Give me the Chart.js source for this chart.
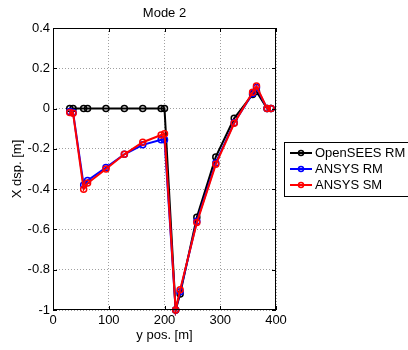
<!DOCTYPE html>
<html>
<head>
<meta charset="utf-8">
<script src="https://cdn.jsdelivr.net/npm/chart.js@4/dist/chart.umd.min.js"></script>
<style>
  html, body { margin: 0; padding: 0; background: #fff; }
  #wrap { width: 408px; height: 350px; }
</style>
</head>
<body>
<div id="wrap"><canvas id="c"></canvas></div>
<script>
// positions along y [m]
const yPos = [30, 36, 55, 62, 95, 128, 161, 194, 200, 220, 228, 258, 292, 325, 358, 365, 384, 391];

// X displacement per model
const openseesRM = [0, 0, 0, 0, 0, 0, 0, 0, 0, -1, -0.92, -0.54, -0.24, -0.048, 0.07, 0.085, 0, 0];
const ansysRM = [-0.015, -0.02, -0.38, -0.357, -0.293, -0.227, -0.18, -0.155, -0.155, -1, -0.91, -0.56, -0.27, -0.07, 0.075, 0.105, 0, 0];
const ansysSM = [-0.02, -0.023, -0.40, -0.37, -0.30, -0.227, -0.167, -0.131, -0.125, -1, -0.90, -0.566, -0.277, -0.073, 0.081, 0.112, 0, 0];

const xTicks = [0, 100, 200, 300, 400];
const yTicks = [-1, -0.8, -0.6, -0.4, -0.2, 0, 0.2, 0.4];
const yTickLabels = ['-1', '-0.8', '-0.6', '-0.4', '-0.2', '0', '0.2', '0.4'];

const font = 'Liberation Sans, Arial, sans-serif';

function pts(vals) {
    return yPos.map((x, i) => ({ x: x, y: vals[i] }));
}

function series(label, vals, color, order) {
    return {
        label: label,
        data: pts(vals),
        borderColor: color,
        borderWidth: 2,
        pointRadius: 3,
        pointBorderWidth: 1.5,
        pointBorderColor: color,
        pointBackgroundColor: 'rgba(0,0,0,0)',
        tension: 0,
        clip: 6,
        order: order
    };
}

// MATLAB style frame, inward ticks, title and legend
const matlabFrame = {
    id: 'matlabFrame',
    afterDraw(chart) {
        const ctx = chart.ctx;
        const a = chart.chartArea;
        const xs = chart.scales.x, ys = chart.scales.y;
        ctx.save();
        ctx.strokeStyle = '#000';
        ctx.lineWidth = 1;
        ctx.strokeRect(Math.round(a.left) + 0.5, Math.round(a.top) + 0.5,
            Math.round(a.right - a.left) - 1, Math.round(a.bottom - a.top) - 1);
        ctx.beginPath();
        xTicks.forEach(v => {
            const px = Math.round(xs.getPixelForValue(v)) + 0.5;
            ctx.moveTo(px, a.bottom); ctx.lineTo(px, a.bottom - 4);
            ctx.moveTo(px, a.top); ctx.lineTo(px, a.top + 4);
        });
        yTicks.forEach(v => {
            const py = Math.round(ys.getPixelForValue(v)) + 0.5;
            ctx.moveTo(a.left, py); ctx.lineTo(a.left + 4, py);
            ctx.moveTo(a.right, py); ctx.lineTo(a.right - 4, py);
        });
        ctx.stroke();

        // title
        ctx.fillStyle = '#000';
        ctx.font = '13px ' + font;
        ctx.textAlign = 'center';
        ctx.textBaseline = 'middle';
        ctx.fillText('Mode 2', (a.left + a.right) / 2, 13);

        // legend
        ctx.fillStyle = '#fff';
        ctx.fillRect(284.5, 142.5, 130, 54);
        ctx.strokeStyle = '#000';
        ctx.strokeRect(284.5, 142.5, 130, 54);
        const ds = chart.data.datasets;
        ds.forEach((d, i) => {
            const y = 153 + i * 16;
            ctx.strokeStyle = d.borderColor;
            ctx.lineWidth = 2;
            ctx.beginPath();
            ctx.moveTo(290, y); ctx.lineTo(312, y);
            ctx.stroke();
            ctx.lineWidth = 1.5;
            ctx.beginPath();
            ctx.arc(301, y, 2.5, 0, Math.PI * 2);
            ctx.stroke();
            ctx.fillStyle = '#000';
            ctx.textAlign = 'left';
            ctx.fillText(d.label, 315, y + 0.5);
        });
        ctx.restore();
    }
};

new Chart(document.getElementById('c'), {
    type: 'line',
    data: {
        datasets: [
            series('OpenSEES RM', openseesRM, '#000000', 3),
            series('ANSYS RM', ansysRM, '#0000ff', 2),
            series('ANSYS SM', ansysSM, '#ff0000', 1)
        ]
    },
    options: {
        responsive: true,
        maintainAspectRatio: false,
        animation: false,
        layout: { padding: { left: 0, top: 28, right: 132, bottom: 0 } },
        plugins: {
            legend: { display: false },
            tooltip: { enabled: false }
        },
        scales: {
            x: {
                type: 'linear',
                min: 0,
                max: 400,
                afterBuildTicks: s => { s.ticks = xTicks.map(v => ({ value: v })); },
                afterFit: s => { s.height = 40; },
                ticks: {
                    color: '#000',
                    padding: 3,
                    maxRotation: 0,
                    font: { family: font, size: 13 },
                    callback: v => String(v)
                },
                grid: { color: '#a0a0a0', drawTicks: false },
                border: { display: false, dash: [1, 2] },
                title: {
                    display: true,
                    text: 'y pos. [m]',
                    color: '#000',
                    font: { family: font, size: 13 },
                    padding: { top: 0, bottom: 7 }
                }
            },
            y: {
                type: 'linear',
                min: -1,
                max: 0.4,
                afterBuildTicks: s => { s.ticks = yTicks.map(v => ({ value: v })); },
                afterFit: s => { s.width = 53; },
                ticks: {
                    color: '#000',
                    padding: 3,
                    font: { family: font, size: 13 },
                    callback: (v, i) => yTickLabels[i]
                },
                grid: { color: '#a0a0a0', drawTicks: false },
                border: { display: false, dash: [1, 2] },
                title: {
                    display: true,
                    text: 'X dsp. [m]',
                    color: '#000',
                    font: { family: font, size: 13 },
                    padding: { top: 10, bottom: 0 }
                }
            }
        }
    },
    plugins: [matlabFrame]
});
</script>
</body>
</html>
